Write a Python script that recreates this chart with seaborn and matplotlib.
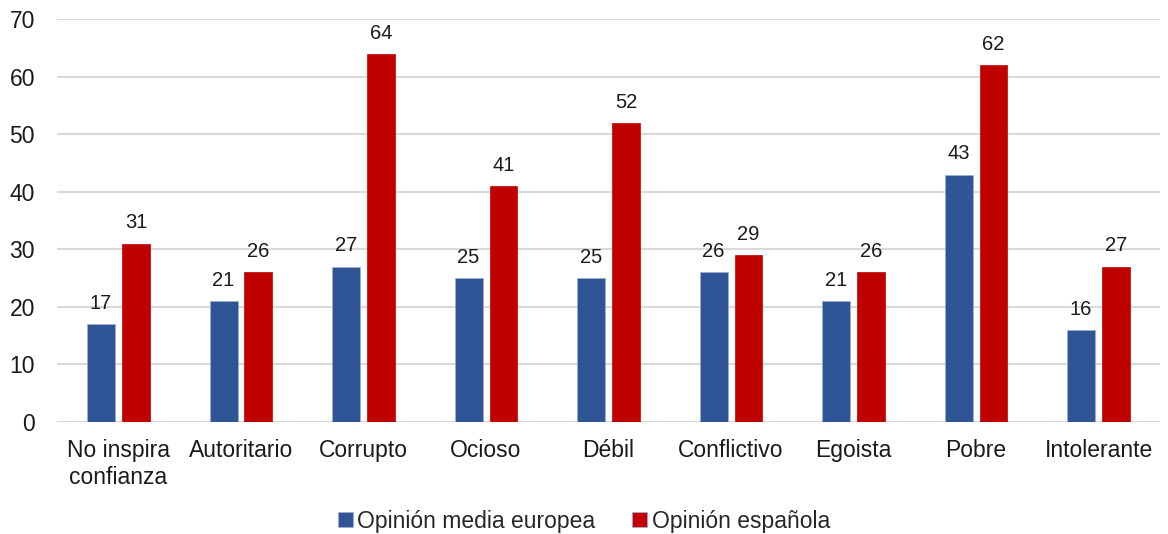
import matplotlib
matplotlib.use("Agg")
from matplotlib import pyplot as plt
import seaborn as sns
import pandas as pd

categorias = ["No inspira\nconfianza", "Autoritario", "Corrupto", "Ocioso", "Débil",
              "Conflictivo", "Egoista", "Pobre", "Intolerante"]
europea = [17, 21, 27, 25, 25, 26, 21, 43, 16]
espanola = [31, 26, 64, 41, 52, 29, 26, 62, 27]
series = ["Opinión media europea", "Opinión española"]

df = pd.DataFrame({
    "Categoría": categorias * 2,
    "Valor": europea + espanola,
    "Serie": [series[0]] * len(categorias) + [series[1]] * len(categorias),
})

sns.set_style("white")
plt.rcParams["font.family"] = ["Liberation Sans", "DejaVu Sans"]

fig = plt.figure(figsize=(11.68, 5.34), dpi=100)
ax = fig.add_axes([0.049, 0.21, 0.944, 0.754])

sns.barplot(
    data=df, x="Categoría", y="Valor", hue="Serie",
    palette={series[0]: "#2F5597", series[1]: "#C00000"}, saturation=1,
    width=0.57, gap=0.2, edgecolor="#9DB0D6", linewidth=0.5,
    ax=ax, zorder=3, legend=True,
)
# borde sólo en las barras azules
for p in ax.containers[1]:
    p.set_edgecolor("#C00000")

for cont in ax.containers:
    ax.bar_label(cont, fmt="%d", padding=8, fontsize=14.5, color="#1a1a1a")

ax.set_ylim(0, 70)
ax.set_yticks(range(0, 71, 10))
ax.yaxis.grid(True, color="#D9D9D9", linewidth=1.5, zorder=0)
ax.set_axisbelow(True)
for s in ax.spines.values():
    s.set_visible(False)
ax.tick_params(axis="both", length=0, labelsize=16.5, colors="#1a1a1a")
ax.tick_params(axis="x", pad=12)
ax.tick_params(axis="y", pad=16)
for t in ax.get_xticklabels():
    t.set_linespacing(1.25)
ax.set_xlabel("")
ax.set_ylabel("")

handles, labels = ax.get_legend_handles_labels()
ax.get_legend().remove()
fig.legend(handles, labels, loc="center", bbox_to_anchor=(0.5, 0.024), ncol=2,
           frameon=False, fontsize=16.5, handlelength=0.65, handleheight=0.65,
           handletextpad=0.2, columnspacing=1.6)

fig.savefig("out.png", dpi=100)
